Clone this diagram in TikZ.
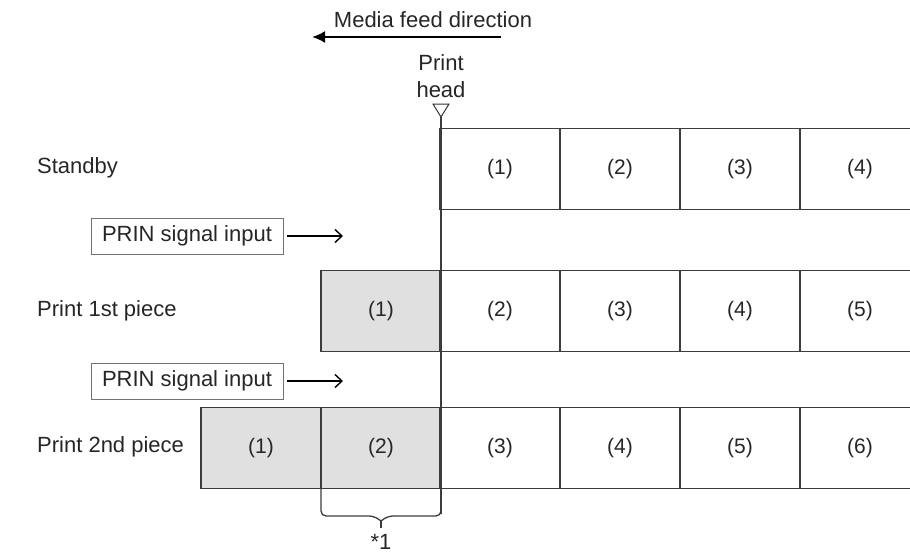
\documentclass[tikz,border=0pt]{standalone}
\usepackage{fontspec}
\setmainfont{Liberation Sans}
\usetikzlibrary{arrows.meta}
\definecolor{ln}{HTML}{3C3C3C}
\definecolor{cellfill}{HTML}{E0E0E0}
\tikzset{
  txt/.style={font=\fontsize{22}{26}\selectfont, text=black!85, inner sep=0pt},
  cellbox/.style={draw=ln, line width=1.3pt, minimum width=120pt, minimum height=81pt, inner sep=0pt, font=\fontsize{21}{25}\selectfont, text=black!85},
  shaded/.style={cellbox, fill=cellfill},
  sigbox/.style={draw=black!55, line width=1pt, minimum width=192pt, minimum height=36pt, inner sep=0pt, font=\fontsize{22}{26}\selectfont, text=black!85},
  sigarrow/.style={draw=black, line width=1.4pt, -{Straight Barb[length=7pt,width=13pt,line width=1.4pt]}},
}
\begin{document}
\begin{tikzpicture}[x=1pt,y=-1pt]
\useasboundingbox (0,0) rectangle (910,554);
% header
\node[txt] (mfd) at (433,20) {Media feed direction};
\coordinate (mfdR) at (501,37);
\coordinate (mfdL) at (312,37);
\draw[line width=2pt, -{Latex[length=13pt,width=12pt]}] (mfdR) -- (mfdL);
\node[txt, align=center, font=\fontsize{22}{27}\selectfont] (ph) at (441,76) {Print\\head};
\coordinate (tri) at (441,117);
\draw[line width=1pt, black!80] (433,104) -- (449,104) -- (tri) -- cycle;
% row labels
\node[txt, anchor=west] (l1) at (37,168) {Standby};
\node[txt, anchor=west] (l2) at (37,311) {Print 1st piece};
\node[txt, anchor=west] (l3) at (37,447) {Print 2nd piece};
% row 1
\node[cellbox] (a1) at (500,169) {(1)};
\node[cellbox] (a2) at (620,169) {(2)};
\node[cellbox] (a3) at (740,169) {(3)};
\node[cellbox] (a4) at (860,169) {(4)};
% row 2
\node[shaded] (b1) at (381,311) {(1)};
\node[cellbox] (b2) at (500,311) {(2)};
\node[cellbox] (b3) at (620,311) {(3)};
\node[cellbox] (b4) at (740,311) {(4)};
\node[cellbox] (b5) at (860,311) {(5)};
% row 3
\node[shaded] (c1) at (261,448) {(1)};
\node[shaded] (c2) at (381,448) {(2)};
\node[cellbox] (c3) at (500,448) {(3)};
\node[cellbox] (c4) at (620,448) {(4)};
\node[cellbox] (c5) at (740,448) {(5)};
\node[cellbox] (c6) at (860,448) {(6)};
% PRIN signals
\node[sigbox] (s1) at (187,236) {PRIN signal input};
\coordinate (s1e) at (343,236);
\draw[sigarrow] (s1.east) ++(3,0) -- (s1e);
\node[sigbox] (s2) at (187,381) {PRIN signal input};
\coordinate (s2e) at (343,381);
\draw[sigarrow] (s2.east) ++(3,0) -- (s2e);
% print head line
\coordinate (phb) at (441,514);
\draw[ln, line width=1.3pt] (tri) -- (phb);
% brace
\coordinate (brL) at (321,488);
\coordinate (brR) at (441,488);
\draw[ln, line width=1.3pt, rounded corners=5pt] (brL) -- (321,516) -- (374,516) -- (381,521);
\draw[ln, line width=1.3pt, rounded corners=5pt] (brR) -- (441,516) -- (388,516) -- (381,521);
\draw[ln, line width=1.3pt] (381,520) -- (381,528);
\node[txt] (star) at (381,542) {*1};
\end{tikzpicture}
\end{document}
